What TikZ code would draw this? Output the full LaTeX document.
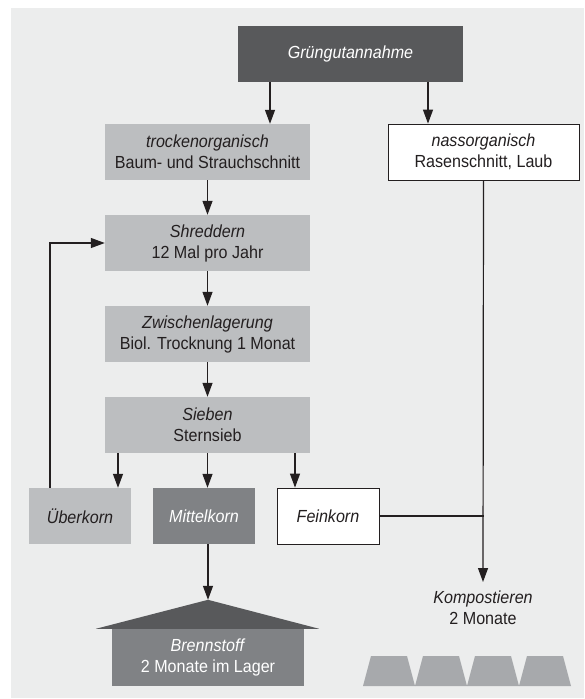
\documentclass[tikz,border=0pt]{standalone}
\usepackage{fontspec}
\setmainfont{Liberation Sans}[FakeStretch=0.92]
\usetikzlibrary{arrows.meta,calc}
\definecolor{bggray}{RGB}{236,237,237}
\definecolor{darkbox}{RGB}{88,89,91}
\definecolor{midbox}{RGB}{128,130,133}
\definecolor{lightbox}{RGB}{188,190,192}
\definecolor{trapgray}{RGB}{167,169,172}
\definecolor{ink}{RGB}{35,31,32}
\begin{document}
\begin{tikzpicture}
[
    x=1pt, y=-1pt,
    font=\fontsize{17.5}{21}\selectfont,
    procbox/.style={minimum width=205pt, minimum height=56pt, inner sep=0pt, align=center, text=ink, fill=lightbox},
    kornbox/.style={procbox, minimum width=102pt, font=\fontsize{17.5}{21}\selectfont\itshape},
    whitebox/.style={draw=ink, line width=0.8pt, fill=white},
    arr/.style={-{Triangle[length=14pt,width=10pt]}, line width=1.2pt, draw=ink},
    plainline/.style={line width=1.2pt, draw=ink},
]
\useasboundingbox (0,0) rectangle (584,699);
\fill[bggray] (11,8) rectangle (584,698);
\node[procbox, fill=darkbox, text=white, minimum width=225pt] (gruen) at (350.5,54) {\itshape Grüngutannahme};
\node[procbox] (trocken) at (207.5,152) {\textit{trockenorganisch}\\Baum- und Strauchschnitt};
\node[procbox, whitebox, minimum width=191pt] (nass) at (483.5,152) {\textit{nassorganisch}\\Rasenschnitt, Laub};
\node[procbox] (shred) at (207.5,243) {\textit{Shreddern}\\12 Mal pro Jahr};
\node[procbox] (zwischen) at (207.5,334) {\textit{Zwischenlagerung}\\Biol. Trocknung 1 Monat};
\node[procbox] (sieben) at (207.5,425) {\textit{Sieben}\\Sternsieb};
\node[kornbox] (ueber) at (80,516) {Überkorn};
\node[kornbox, fill=midbox, text=white] (mittel) at (204,516) {Mittelkorn};
\node[kornbox, whitebox] (fein) at (328,516) {Feinkorn};
\node[procbox, fill=midbox, text=white, minimum width=192pt, minimum height=57pt] (lager) at (208,657.5) {\textit{Brennstoff}\\2 Monate im Lager};
\node[align=center, text=ink, anchor=north, inner xsep=0pt, inner ysep=9pt] (kompost) at (483,582) {\textit{Kompostieren}\\2 Monate};
\coordinate (apex) at ($(lager.north)+(0,-29)$);
\fill[darkbox] ($(lager.north west)+(-16,0)$) -- (apex) -- ($(lager.north east)+(15,0)$) -- cycle;
\foreach \i in {0,...,3}
    \fill[trapgray] ({363+52*\i},686) -- ++(52,0) -- ++(-8,-30) -- ++(-36,0) -- cycle;
\coordinate (colL) at (50,0);
\coordinate (colU) at (118,0);
\coordinate (colA) at (270,0);
\coordinate (colF) at (295,0);
\coordinate (colB) at (428,0);
\draw[arr] (gruen.south -| colA) -- (trocken.north -| colA);
\draw[arr] (gruen.south -| colB) -- (nass.north -| colB);
\draw[arr] (trocken) -- (shred);
\draw[arr] (shred) -- (zwischen);
\draw[arr] (zwischen) -- (sieben);
\draw[arr] (sieben.south -| colU) -- (ueber.north -| colU);
\draw[arr] (sieben.south) -- (mittel.north -| sieben.south);
\draw[arr] (sieben.south -| colF) -- (fein.north -| colF);
\draw[arr] (ueber.north -| colL) |- (shred.west);
\draw[plainline] (fein.east) -- (fein.east -| nass.south);
\draw[arr] (nass.south) -- (kompost.north);
\draw[arr] (mittel.south -| apex) -- (apex);
\end{tikzpicture}
\end{document}
